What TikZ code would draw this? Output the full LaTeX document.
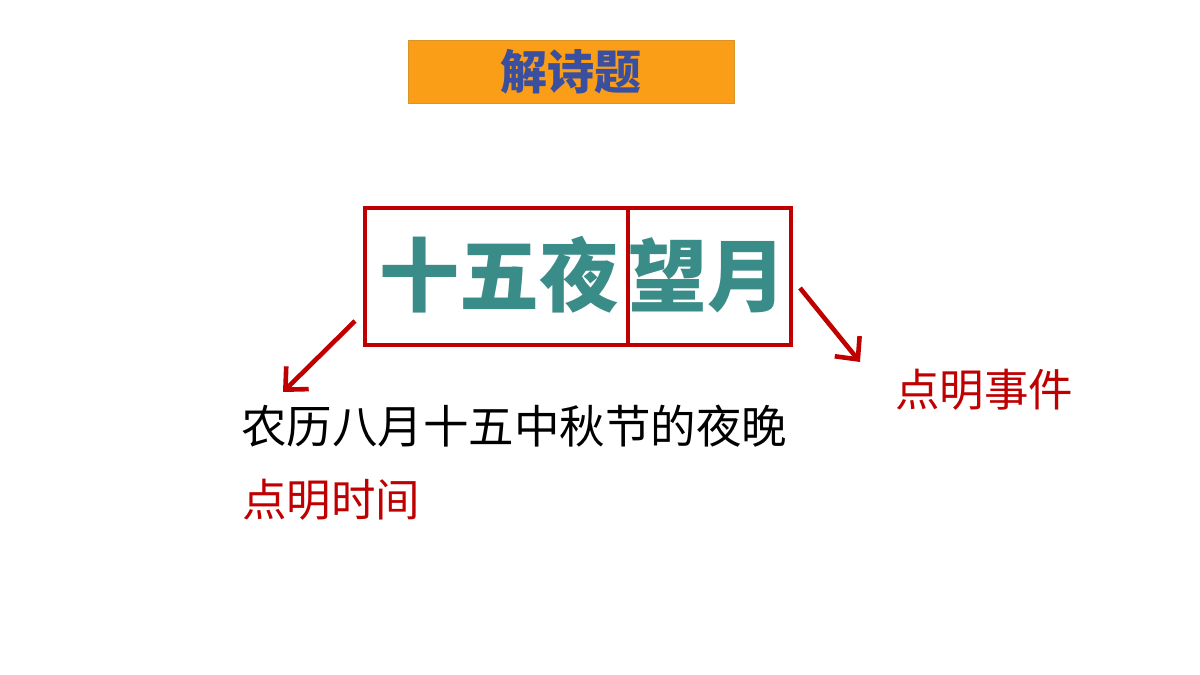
\documentclass[tikz,border=0pt]{standalone}
\usepackage{fontspec}
\setmainfont{Noto Sans CJK SC}
\newfontfamily\cjk{Noto Sans CJK SC}
\usetikzlibrary{arrows.meta}
\definecolor{titleor}{HTML}{FB9E17}
\definecolor{titleblue}{HTML}{3B4FA0}
\definecolor{boxred}{HTML}{C00000}
\definecolor{teal2}{HTML}{3A8C89}
\begin{document}
\begin{tikzpicture}[x=1pt,y=-1pt,
  redline/.style={draw=boxred,line width=4pt},
  arr/.style={boxred,line width=4.6pt,-{Straight Barb[length=17pt,width=32pt]}},
  lbl/.style={inner sep=0pt,anchor=west}]
\useasboundingbox (0,0) rectangle (1200,675);
\fill[white] (0,0) rectangle (1200,675);
% title
\node[fill=titleor,draw=titleor!85!black!90,line width=0.6pt,minimum width=326pt,minimum height=63pt,inner sep=0pt] (title) at (571,71.5)
  {\cjk\fontsize{47}{50}\selectfont\bfseries\color{titleblue}解诗题};
% red boxes
\node[redline,minimum width=263pt,minimum height=137pt,inner sep=0pt] (boxL) at (496.5,276.5) {};
\node[redline,minimum width=163pt,minimum height=137pt,inner sep=0pt] (boxR) at (709.5,276.5) {};
\node[inner sep=0pt] (tL) at (499,275) {\cjk\fontsize{80}{84}\selectfont\bfseries\color{teal2}十五夜};
\node[inner sep=0pt] (tR) at (707,275) {\cjk\fontsize{79}{84}\selectfont\bfseries\color{teal2}望月};
% arrows
\coordinate (aLs) at (355,321);
\coordinate (aLe) at (283,392);
\coordinate (aRs) at (800,288);
\coordinate (aRe) at (860,362);
\draw[arr] (aLs) -- (aLe);
\draw[arr] (aRs) -- (aRe);
% texts
\node[lbl] (desc) at (241,426) {\fontsize{45.5}{48}\selectfont 农历八月十五中秋节的夜晚};
\node[lbl] (time) at (242,500) {\fontsize{44.5}{48}\selectfont\color{boxred}点明时间};
\node[lbl] (event) at (895,390) {\fontsize{44.5}{48}\selectfont\color{boxred}点明事件};
\end{tikzpicture}
\end{document}
